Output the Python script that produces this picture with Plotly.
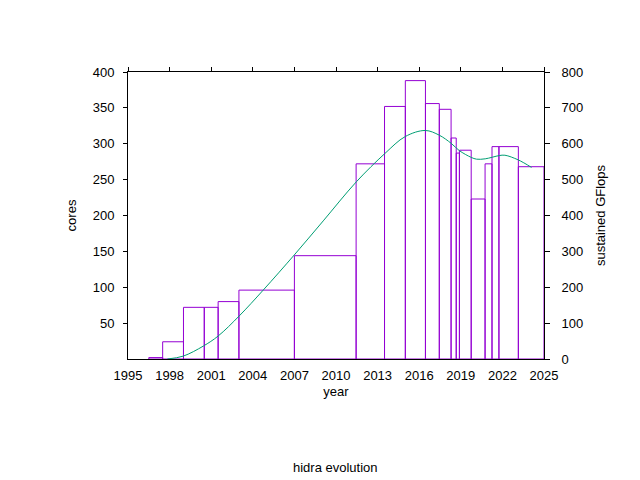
import plotly.graph_objects as go

# Box data: installation start year and number of cores
period_start = [1996.5, 1997.5, 1999.0, 2000.5, 2001.5, 2003.0, 2007.0, 2011.45, 2013.5, 2015.0,
                2016.45, 2017.45, 2018.3, 2018.67, 2018.9, 2019.75, 2020.75, 2021.25, 2021.75, 2023.15]
cores = [2, 24, 72, 72, 80, 96, 144, 272, 352, 388,
         356, 348, 308, 287, 291, 223, 272, 296, 296, 268]
last_end = 2025.0

# Smoothed sustained GFlops curve
gf_year = [1997.84, 1998.98, 2000.43, 2001.5, 2003.02, 2004.75, 2006.99, 2009.08, 2011.47,
           2013.53, 2014.99, 2016.44, 2017.44, 2018.31, 2018.89, 2019.75, 2020.14, 2020.76,
           2021.77, 2022.18, 2023.14, 2024.1]
gflops = [0, 8, 36, 64, 120, 192, 290, 385, 494,
          573, 620, 637, 624, 601, 581, 562, 557, 558,
          567, 568, 555, 534]

x_ticks = list(range(1995, 2026, 3))
y_ticks = list(range(50, 401, 50))
y2_ticks = list(range(0, 801, 100))

period_end = period_start[1:] + [last_end]
centers = [(a + b) / 2 for a, b in zip(period_start, period_end)]
widths = [b - a for a, b in zip(period_start, period_end)]

FONT = "Liberation Sans, Arial, sans-serif"
OFF = 8  # page body margin of the browser
TF = dict(size=13, family=FONT, color="black")

fig = go.Figure()
fig.add_trace(go.Bar(
    x=centers, y=cores, width=widths,
    marker=dict(color="rgba(0,0,0,0)", line=dict(color="#9400D3", width=1)),
    showlegend=False, hoverinfo="x+y",
))
fig.add_trace(go.Scatter(
    x=gf_year, y=gflops, yaxis="y2", mode="lines",
    line=dict(color="#009E73", width=1, shape="spline", smoothing=1),
    showlegend=False,
))
# invisible trace to activate top x axis
fig.add_trace(go.Scatter(x=[1995, 2025], y=[0, 0], xaxis="x2", mode="lines",
                         line=dict(width=0), showlegend=False, hoverinfo="skip"))

fig.update_layout(
    width=640 - OFF, height=480 - OFF,
    margin=dict(l=128 - OFF, r=96, t=72 - OFF, b=121),
    paper_bgcolor="white", plot_bgcolor="white",
    font=dict(family=FONT, size=13, color="black"),
    xaxis=dict(range=[1995, 2025], tickvals=x_ticks, ticks="", showline=True, linecolor="black",
               linewidth=1, mirror=True, showgrid=False, zeroline=False, automargin=False,
               title=dict(text="year", standoff=5, font=TF), ticklabelstandoff=4),
    xaxis2=dict(range=[1995, 2025], tickvals=x_ticks, overlaying="x", side="top", ticks="outside",
                ticklen=4, tickcolor="black", showticklabels=False, showgrid=False, zeroline=False,
                showline=False, automargin=False),
    yaxis=dict(range=[0, 400], tickvals=y_ticks, ticks="outside", ticklen=4, tickcolor="black",
               showline=True, linecolor="black", linewidth=1, showgrid=False, zeroline=False,
               automargin=False, title=dict(text="cores", standoff=13, font=TF), ticklabelstandoff=6),
    yaxis2=dict(range=[0, 800], tickvals=y2_ticks, overlaying="y", side="right", ticks="outside",
                ticklen=5, tickcolor="black", showline=True, linecolor="black", linewidth=1,
                showgrid=False, zeroline=False, automargin=False,
                title=dict(text="sustained GFlops", standoff=13, font=TF), ticklabelstandoff=9),
)
fig.layout.annotations = [dict(text="hidra evolution", x=(335 - 128) / 416, y=-(467 - 359) / 287,
                               xref="paper", yref="paper", showarrow=False, font=TF,
                               xanchor="center", yanchor="middle")]
fig.write_html("out.html")
